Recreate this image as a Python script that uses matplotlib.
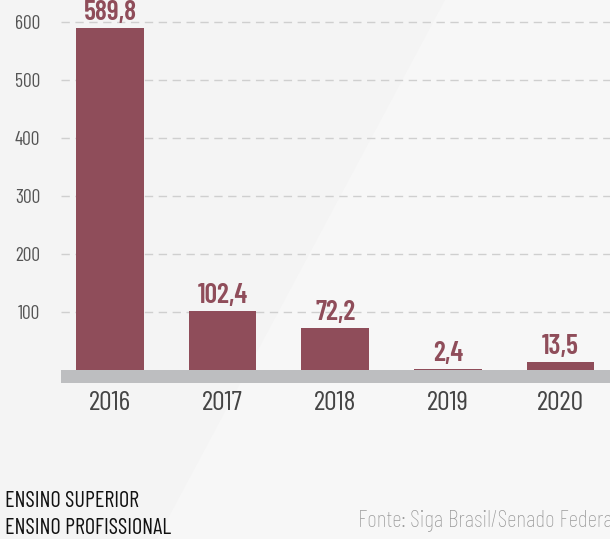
import matplotlib
matplotlib.use("Agg")
import matplotlib.pyplot as plt
from matplotlib.patches import Polygon

# dados
anos = ["2016", "2017", "2018", "2019", "2020"]
valores = [589.8, 102.4, 72.2, 2.4, 13.5]
rotulos = ["589,8", "102,4", "72,2", "2,4", "13,5"]
yticks = [100, 200, 300, 400, 500, 600]

plt.rcParams["font.family"] = ["Barlow Condensed", "DejaVu Sans"]

cor_barra = "#8F4D5A"
fundo = "#F4F4F4"

fig = plt.figure(figsize=(6.1, 5.39), dpi=100)
fig.patch.set_facecolor(fundo)

# faixa diagonal mais clara no fundo
fig.patches.append(Polygon([(445 / 610, 1), (1, 1), (1, 0), (157 / 610, 0)],
                           closed=True, transform=fig.transFigure,
                           facecolor="#F7F7F7", lw=0, zorder=-1))

ax = fig.add_axes([61 / 610, 1 - 383 / 539, 1 - 61 / 610, 383 / 539])
ax.set_facecolor("none")
ax.set_zorder(2)

x = range(len(anos))
ax.bar(x, valores, width=0.6, color=cor_barra, zorder=2)
ax.axhspan(-22.4, 0, color="#BDBEC0", zorder=3, lw=0)

for i, (v, r) in enumerate(zip(valores, rotulos)):
    ax.annotate(r, (i, v), xytext=(0, 2), textcoords="offset points",
                ha="center", va="bottom", fontsize=20, fontweight="semibold",
                color=cor_barra)

ax.set_xlim(-0.436, 4.44)
ax.set_ylim(-22.4, 638)
ax.set_xticks(list(x))
ax.set_xticklabels(anos, fontsize=20, color="#444444")
ax.set_yticks(yticks)
ax.set_yticklabels([str(t) for t in yticks], fontsize=14, color="#555555")
ax.tick_params(axis="both", length=0)
ax.tick_params(axis="y", pad=15)
ax.tick_params(axis="x", pad=6)
ax.grid(axis="y", color="#CFCFCF", linestyle=(0, (6, 4)), linewidth=1, zorder=1)
for s in ax.spines.values():
    s.set_visible(False)

fig.text(5 / 610, 1 - 507 / 539, "ENSINO SUPERIOR", fontsize=16, color="#111111",
         va="baseline", zorder=3)
fig.text(5 / 610, 1 - 534 / 539, "ENSINO PROFISSIONAL", fontsize=16, color="#111111",
         va="baseline", zorder=3)
fig.text(358 / 610, 1 - 527 / 539, "Fonte: Siga Brasil/Senado Federal", fontsize=17,
         fontweight="light", color="#9A9A9A", va="baseline", zorder=3)

fig.savefig("out.png", dpi=100, facecolor=fundo)
